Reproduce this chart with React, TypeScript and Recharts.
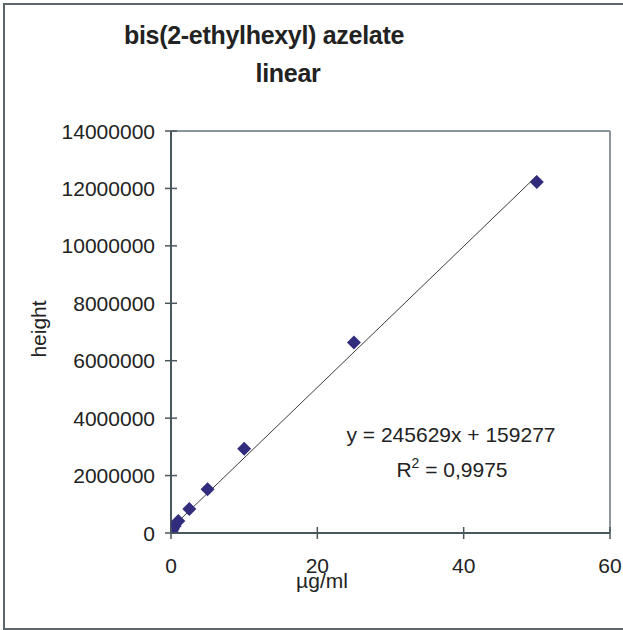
import React from 'react';
import { ReferenceLine, Scatter, ScatterChart, XAxis, YAxis } from 'recharts';

// calibration points
const concentration = [0.1, 0.25, 0.5, 1, 2.5, 5, 10, 25, 50];
const peakHeight = [70000, 140000, 244000, 419000, 838000, 1526000, 2930000, 6630000, 12220000];

const xTicks = [0, 20, 40, 60];
const yTicks = [0, 2000000, 4000000, 6000000, 8000000, 10000000, 12000000, 14000000];

// trendline as printed on the chart
const slope = 245629;
const intercept = 159277;
const rSquared = '0,9975';

const points = concentration.map((x, i) => ({ x, y: peakHeight[i] }));
const trendX = [Math.min(...concentration), Math.max(...concentration)];
const trend = trendX.map((x) => ({ x, y: slope * x + intercept }));

const font = '"Liberation Sans", Arial, sans-serif';
const textColor = '#222';
const axisColor = '#4a575d';
const frameColor = '#8a969c';
const markerColor = '#312d7c';

const Diamond = ({ cx, cy }: any) => (
    <polygon points={`${cx},${cy - 7} ${cx + 7},${cy} ${cx},${cy + 7} ${cx - 7},${cy}`} fill={markerColor} />
);

const YTick = ({ x, y, payload }: any) => (
    <g>
        <line x1={x - 6} x2={x + 6} y1={y} y2={y} stroke={axisColor} strokeWidth={1.5} />
        <text x={x - 16} y={y} dy="0.36em" textAnchor="end" fontSize={21} fill={textColor} fontFamily={font}>
            {payload.value}
        </text>
    </g>
);

const XTick = ({ x, y, payload }: any) => (
    <g>
        <line x1={x} x2={x} y1={y - 6} y2={y + 6} stroke={axisColor} strokeWidth={1.5} />
        <text x={x} y={y + 40} textAnchor="middle" fontSize={21} fill={textColor} fontFamily={font}>
            {payload.value}
        </text>
    </g>
);

export default function App() {
    return (
        <div style={{ position: 'absolute', left: 0, top: 0, width: 623, height: 630, overflow: 'hidden', background: '#fff' }}>
            <div
                style={{
                    position: 'absolute',
                    left: 3,
                    top: 3,
                    width: 640,
                    height: 627,
                    border: '2px solid #5d676b',
                    boxSizing: 'border-box',
                }}
            />
            <div style={{ position: 'absolute', left: 0, top: 0 }}>
                <ScatterChart width={623} height={630} margin={{ top: 131, right: 13, bottom: 0, left: 0 }}>
                    <XAxis
                        type="number"
                        dataKey="x"
                        domain={[0, 60]}
                        ticks={xTicks}
                        allowDataOverflow
                        height={97}
                        tickSize={0}
                        tickMargin={0}
                        tickLine={false}
                        tick={<XTick />}
                        axisLine={{ stroke: axisColor, strokeWidth: 2 }}
                    />
                    <YAxis
                        type="number"
                        dataKey="y"
                        domain={[0, 14000000]}
                        ticks={yTicks}
                        allowDataOverflow
                        width={171}
                        tickSize={0}
                        tickMargin={0}
                        tickLine={false}
                        tick={<YTick />}
                        axisLine={{ stroke: axisColor, strokeWidth: 2 }}
                    />
                    <ReferenceLine y={14000000} stroke={frameColor} strokeWidth={2} />
                    <ReferenceLine x={60} stroke={frameColor} strokeWidth={2} />
                    <Scatter
                        data={trend}
                        line={{ stroke: '#3c3c3c', strokeWidth: 1 }}
                        shape={() => <g />}
                        isAnimationActive={false}
                    />
                    <Scatter data={points} shape={<Diamond />} isAnimationActive={false} />
                </ScatterChart>
            </div>
            <svg
                width={623}
                height={630}
                style={{ position: 'absolute', left: 0, top: 0, pointerEvents: 'none' }}
                fontFamily={font}
                fill={textColor}
            >
                <text x={264} y={44} textAnchor="middle" fontSize={25} fontWeight="bold" letterSpacing={-0.3}>
                    bis(2-ethylhexyl) azelate
                </text>
                <text x={288} y={82} textAnchor="middle" fontSize={25} fontWeight="bold" letterSpacing={-0.3}>
                    linear
                </text>
                <text x={46} y={329} textAnchor="middle" fontSize={21} transform="rotate(-90 46 329)">
                    height
                </text>
                <text x={322} y={588} textAnchor="middle" fontSize={21}>
                    µg/ml
                </text>
                <text x={451} y={442} textAnchor="middle" fontSize={21}>
                    {`y = ${slope}x + ${intercept}`}
                </text>
                <text x={452} y={477} textAnchor="middle" fontSize={21}>
                    R<tspan fontSize={14} dy={-9}>2</tspan>
                    <tspan dy={9}>{` = ${rSquared}`}</tspan>
                </text>
            </svg>
        </div>
    );
}
